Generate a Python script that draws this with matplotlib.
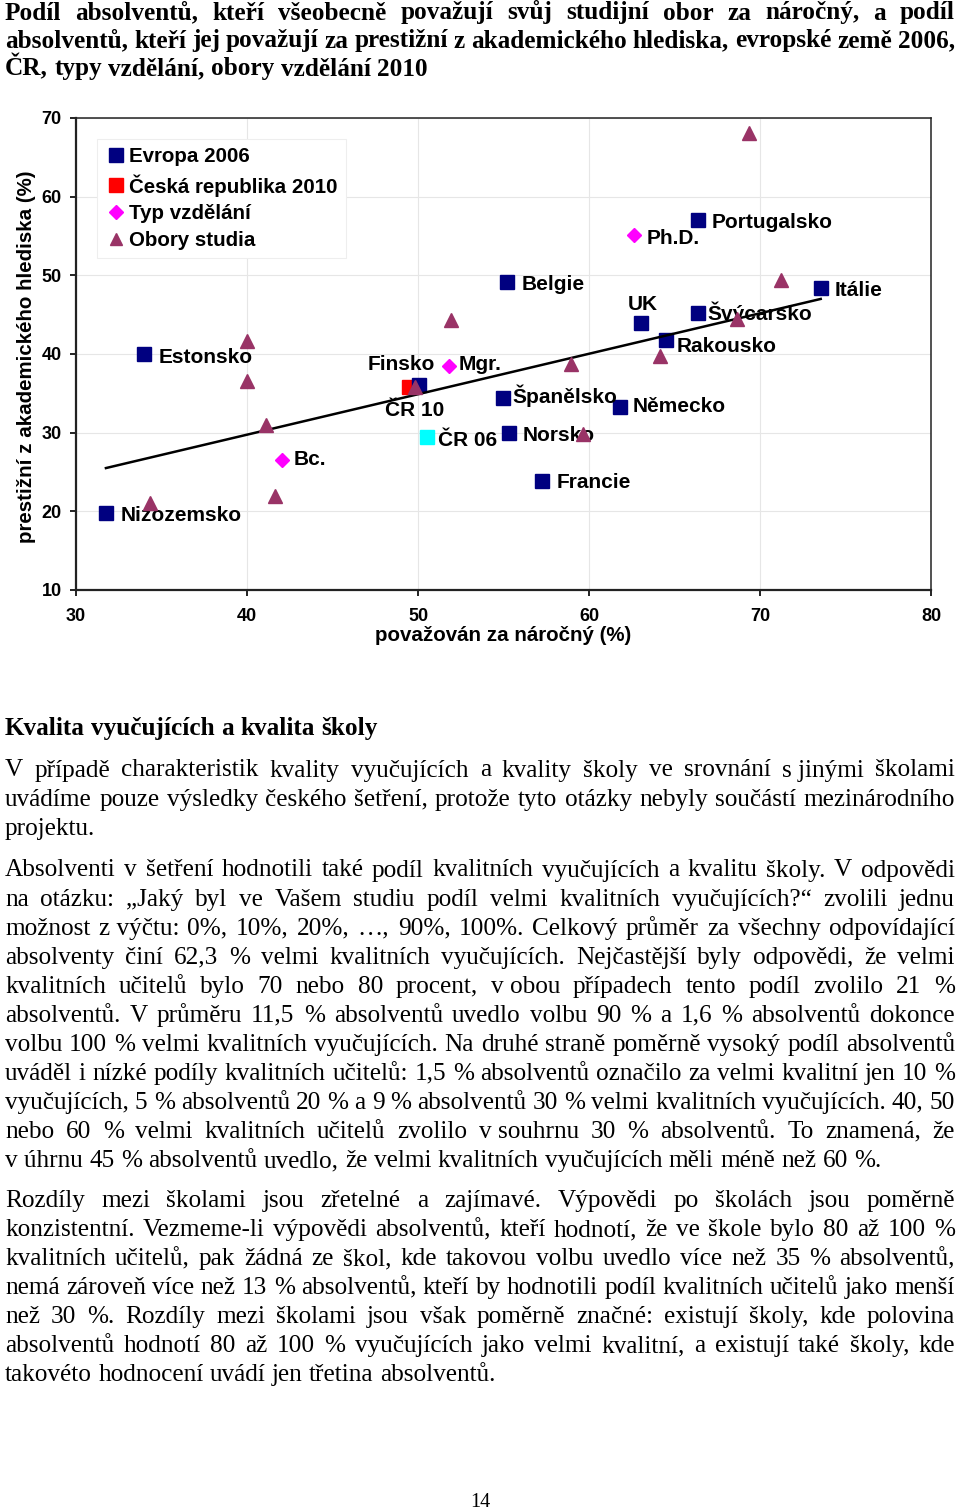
import numpy as np
import matplotlib
matplotlib.use('Agg')
import matplotlib.pyplot as plt
from matplotlib.transforms import IdentityTransform

# --- data ---
europe_names = ['Nizozemsko', 'Estonsko', 'Finsko', 'Belgie', 'Španělsko', 'Norsko', 'Francie',
                'Německo', 'UK', 'Rakousko', 'Švýcarsko', 'Portugalsko', 'Itálie']
europe_x = [31.75, 34.0, 50.05, 55.2, 54.95, 55.3, 57.25, 61.8, 63.05, 64.5, 66.4, 66.35, 73.55]
europe_y = [19.75, 40.0, 36.1, 49.1, 34.4, 29.9, 23.9, 33.25, 43.9, 41.75, 45.2, 57.0, 48.4]

cr10_names = ['ČR 10']
cr10_x = [49.45]
cr10_y = [35.8]

cr06_names = ['ČR 06']
cr06_x = [50.55]
cr06_y = [29.4]

typ_names = ['Bc.', 'Mgr.', 'Ph.D.']
typ_x = [42.05, 51.8, 62.65]
typ_y = [26.5, 38.5, 55.1]

obory_x = [34.3, 40.0, 40.0, 41.1, 41.65, 49.8, 51.95, 58.95, 59.65, 64.15, 68.65, 69.35, 71.25]
obory_y = [21.1, 41.6, 36.6, 31.0, 22.0, 35.8, 44.3, 38.7, 29.8, 39.8, 44.5, 68.1, 49.4]

trend_x = [31.75, 73.55]
trend_y = [25.5, 47.0]

xticks = [30, 40, 50, 60, 70, 80]
yticks = [10, 20, 30, 40, 50, 60, 70]

title_lines = [
    'Podíl absolventů, kteří všeobecně považují svůj studijní obor za náročný, a podíl',
    'absolventů, kteří jej považují za prestižní z akademického hlediska, evropské země 2006,',
    'ČR, typy vzdělání, obory vzdělání 2010',
]
heading = 'Kvalita vyučujících a kvalita školy'
paragraphs = [
    ['V případě charakteristik kvality vyučujících a kvality školy ve srovnání s\u00a0jinými školami',
     'uvádíme pouze výsledky českého šetření, protože tyto otázky nebyly součástí mezinárodního',
     'projektu.'],
    ['Absolventi v šetření hodnotili také podíl kvalitních vyučujících a kvalitu školy. V odpovědi',
     'na otázku: „Jaký byl ve Vašem studiu podíl velmi kvalitních vyučujících?“ zvolili jednu',
     'možnost z\u00a0výčtu: 0%, 10%, 20%, …, 90%, 100%. Celkový průměr za všechny odpovídající',
     'absolventy činí 62,3 % velmi kvalitních vyučujících. Nejčastější byly odpovědi, že velmi',
     'kvalitních učitelů bylo 70 nebo 80 procent, v\u00a0obou případech tento podíl zvolilo 21 %',
     'absolventů. V průměru 11,5 % absolventů uvedlo volbu 90 % a 1,6 % absolventů dokonce',
     'volbu 100 % velmi kvalitních vyučujících. Na druhé straně poměrně vysoký podíl absolventů',
     'uváděl i nízké podíly kvalitních učitelů: 1,5 % absolventů označilo za velmi kvalitní jen 10 %',
     'vyučujících, 5 % absolventů 20 % a 9 % absolventů 30 % velmi kvalitních vyučujících. 40, 50',
     'nebo 60 % velmi kvalitních učitelů zvolilo v\u00a0souhrnu 30 % absolventů. To znamená, že',
     'v\u00a0úhrnu 45 % absolventů uvedlo, že velmi kvalitních vyučujících měli méně než 60 %.'],
    ['Rozdíly mezi školami jsou zřetelné a zajímavé. Výpovědi po školách jsou poměrně',
     'konzistentní. Vezmeme-li výpovědi absolventů, kteří hodnotí, že ve škole bylo 80 až 100 %',
     'kvalitních učitelů, pak žádná ze škol, kde takovou volbu uvedlo více než 35 % absolventů,',
     'nemá zároveň více než 13 % absolventů, kteří by hodnotili podíl kvalitních učitelů jako menší',
     'než 30 %. Rozdíly mezi školami jsou však poměrně značné: existují školy, kde polovina',
     'absolventů hodnotí 80 až 100 % vyučujících jako velmi kvalitní, a existují také školy, kde',
     'takovéto hodnocení uvádí jen třetina absolventů.'],
]
page_number = '14'

# --- layout ---
W, H = 960, 1509
plt.rcParams['font.family'] = ['Liberation Sans', 'DejaVu Sans']
SERIF = ['Liberation Serif', 'DejaVu Serif']

fig = plt.figure(figsize=(W / 100, H / 100), dpi=100)
ax = fig.add_axes([76 / W, 1 - 590 / H, 855 / W, 472 / H])

navy = '#000080'
tri_col = '#993366'

ax.plot(trend_x, trend_y, color='black', lw=1.8, zorder=4)
h_cr = ax.plot(cr10_x, cr10_y, 's', color='#ff0000', ms=10.5, label='Česká republika 2010', zorder=3)[0]
h_eu = ax.plot(europe_x, europe_y, 's', color=navy, ms=10.5, label='Evropa 2006', zorder=3)[0]
ax.plot(cr06_x, cr06_y, 's', color='#00ffff', ms=10.5, zorder=3)
h_typ = ax.plot(typ_x, typ_y, 'D', color='#ff00ff', ms=7.2, label='Typ vzdělání', zorder=3)[0]
h_ob = ax.plot(obory_x, obory_y, '^', color=tri_col, ms=9.5, label='Obory studia', zorder=7)[0]

# label offsets in px: (dx, dy of text centre, ha)
label_pos = {
    'Nizozemsko': (14.7, 0.7, 'left'), 'Estonsko': (14.3, 2, 'left'), 'Finsko': (16, -21.7, 'right'),
    'Belgie': (15, 0, 'left'), 'Španělsko': (10, -2.3, 'left'), 'Norsko': (14.4, 0.7, 'left'),
    'Francie': (14.3, 0, 'left'), 'Německo': (13.3, -2, 'left'), 'UK': (1.5, -20.4, 'center'),
    'Rakousko': (11, 4.3, 'left'), 'Švýcarsko': (9.3, 0, 'left'), 'Portugalsko': (14.4, 0, 'left'),
    'Itálie': (14.3, 1, 'left'), 'ČR 10': (6, 22, 'center'), 'ČR 06': (10.6, 1.7, 'left'),
    'Bc.': (11.6, -2.7, 'left'), 'Mgr.': (10.3, -2.7, 'left'), 'Ph.D.': (12, 1.4, 'left'),
}
for names, xs, ys in [(europe_names, europe_x, europe_y), (cr10_names, cr10_x, cr10_y),
                      (cr06_names, cr06_x, cr06_y), (typ_names, typ_x, typ_y)]:
    for n, x, y in zip(names, xs, ys):
        dx, dy, ha = label_pos[n]
        ax.annotate(n, (x, y), xytext=(dx * 0.72, -(dy + 7.3) * 0.72), textcoords='offset points',
                    ha=ha, va='baseline', fontsize=15, fontweight='bold', zorder=6)

ax.set_xlim(30, 80)
ax.set_ylim(10, 70)
ax.set_xticks(xticks)
ax.set_yticks(yticks)
ax.grid(True, color='#e6e6e6', lw=0.8, zorder=0)
ax.set_axisbelow(True)
for s in ['left', 'bottom']:
    ax.spines[s].set_linewidth(1.6)
    ax.spines[s].set_color('#222222')
for s in ['top', 'right']:
    ax.spines[s].set_linewidth(1.1)
    ax.spines[s].set_color('#222222')
ax.tick_params(axis='both', direction='out', length=4.3, width=1.4, color='#222222',
               labelsize=13)
ax.tick_params(axis='x', pad=8.5)
ax.tick_params(axis='y', pad=6)
for lab in ax.get_xticklabels() + ax.get_yticklabels():
    lab.set_fontweight('bold')

ax.set_xlabel('považován za náročný (%)', fontsize=14.8, fontweight='bold')
ax.set_ylabel('prestižní z akademického hlediska (%)', fontsize=14.8, fontweight='bold')
ax.xaxis.set_label_coords(0.5, (590 - 626) / 472)
ax.yaxis.set_label_coords((27 - 76) / 855, 0.5 - 3 / 472)
ax.yaxis.label.set_va('center')

leg = ax.legend([h_eu, h_cr, h_typ, h_ob], [h.get_label() for h in [h_eu, h_cr, h_typ, h_ob]],
                loc='upper left', bbox_to_anchor=((97 - 76) / 855, (590 - 139) / 472), borderaxespad=0,
                prop={'size': 14.8, 'weight': 'bold'}, frameon=True, fancybox=False,
                edgecolor='#eeeeee', framealpha=1, labelspacing=0.38, handlelength=1.05,
                handletextpad=0.1, borderpad=0.4, markerscale=0.95)
leg.get_frame().set_linewidth(0.8)

# --- page text (justified like the source page) ---
renderer = fig.canvas.get_renderer()
ident = IdentityTransform()
X0, X1 = 5, 955


def width_of(s, size, weight):
    t = fig.text(0, 0, s, fontsize=size, fontweight=weight, family=SERIF, transform=ident)
    w = t.get_window_extent(renderer).width
    t.remove()
    return w


def space_of(size, weight):
    return width_of('x x', size, weight) - width_of('xx', size, weight)


def fit_size(lines, base, weight, squeeze=0.5):
    # largest size (<= base) at which every line fits with spaces squeezed to `squeeze`
    sp = space_of(base, weight)
    scale = 1.0
    for l in lines:
        words = l.split(' ')
        need = sum(width_of(w, base, weight) for w in words) + (len(words) - 1) * sp * squeeze
        scale = min(scale, (X1 - X0) / need)
    return base * scale


def put_line(line, baseline, size, weight, justify):
    words = line.split(' ')
    texts = [fig.text(0, 0, w, fontsize=size, fontweight=weight, family=SERIF,
                      transform=ident, va='baseline', ha='left') for w in words]
    widths = [t.get_window_extent(renderer).width for t in texts]
    if justify and len(words) > 1:
        gap = (X1 - X0 - sum(widths)) / (len(words) - 1)
    else:
        gap = space_of(size, weight)
    x = X0
    for t, w in zip(texts, widths):
        t.set_position((x, H - baseline))
        x += w + gap


body_lines = [l for p in paragraphs for l in p[:-1]]
body_size = fit_size(body_lines, 18.2, 'normal')
title_size = fit_size(title_lines[:-1], 18.2, 'bold')

for i, line in enumerate(title_lines):
    put_line(line, 19.5 + 28 * i, title_size, 'bold', i < len(title_lines) - 1)

put_line(heading, 735, title_size, 'bold', False)

starts = [776.5, 876.5, 1207]
for para, start in zip(paragraphs, starts):
    for i, line in enumerate(para):
        put_line(line, start + 29.05 * i, body_size, 'normal', i < len(para) - 1)

fig.text(480 / W, 1 - 1507 / H, page_number, ha='center', va='baseline', fontsize=14.5, family=SERIF)

fig.savefig('out.png', dpi=100)
